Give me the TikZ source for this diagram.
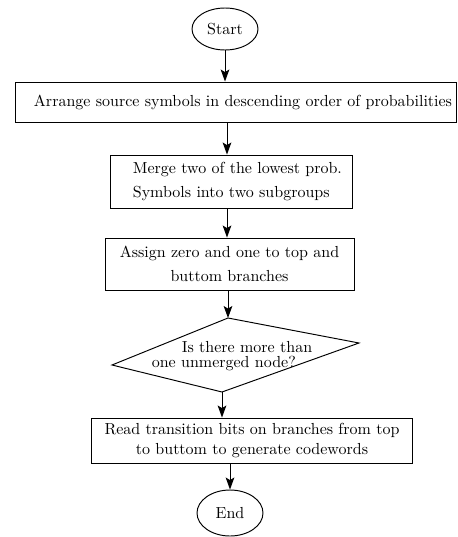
\documentclass[tikz,border=0pt]{standalone}
\usetikzlibrary{arrows.meta,shapes.geometric}
\begin{document}
\begin{tikzpicture}[x=0.625pt,y=-0.625pt,
  line width=0.6pt,
  every node/.style={font=\fontsize{10}{12}\selectfont},
  box/.style={draw, rectangle, inner sep=0pt},
  term/.style={draw, ellipse, inner sep=0pt},
  arr/.style={-{Stealth[length=7.5pt,width=5.4pt,inset=1.6pt]}}]
\useasboundingbox (0,0) rectangle (457,537);

% terminals and process boxes
\node[term, minimum width=41.25pt, minimum height=26.25pt] (start) at (225,29) {Start};
\node[box, minimum width=275.6pt, minimum height=25pt] (b1) at (235.5,102)
  {\hspace*{9.4pt}Arrange source symbols in descending order of probabilities};
\node[box, minimum width=151.25pt, minimum height=33.1pt, align=left,
  font=\fontsize{10}{14.4}\selectfont] (b2) at (231,181.5)
  {\hspace*{8pt}Merge two of the lowest prob.\\\hspace*{8pt}Symbols into two subgroups};
\node[box, minimum width=155.6pt, minimum height=32.5pt, align=center,
  font=\fontsize{10}{15}\selectfont] (b3) at (229.5,264)
  {Assign zero and one to top and\\buttom branches};

% decision: a slightly skewed diamond
\coordinate (dt) at (228,318);
\coordinate (dr) at (359,343);
\coordinate (db) at (222,392);
\coordinate (dl) at (112,365);
\draw (dt) -- (dr) -- (db) -- (dl) -- cycle;
\node[align=left, inner sep=0pt, font=\fontsize{10}{9}\selectfont] (q) at (232,356)
  {\hspace*{18.75pt}Is there more than\\one unmerged node?};

\node[box, minimum width=201pt, minimum height=28.1pt, align=center] (b4) at (252,440.5)
  {Read transition bits on branches from top\\to buttom to generate codewords};
\node[term, minimum width=41.25pt, minimum height=28.75pt] (end) at (230,513) {End};

% connectors
\coordinate (ax) at (227,0);
\draw[arr] (start.south) -- (start.south |- b1.north);
\draw[arr] (b1.south -| ax) -- (b2.north -| ax);
\draw[arr] (b2.south -| ax) -- (b3.north -| ax);
\draw[arr] (b3.south -| dt) -- (dt);
\draw[arr] (db) -- (b4.north -| db);
\draw[arr] (b4.south -| end.north) -- (end.north);
\end{tikzpicture}
\end{document}
